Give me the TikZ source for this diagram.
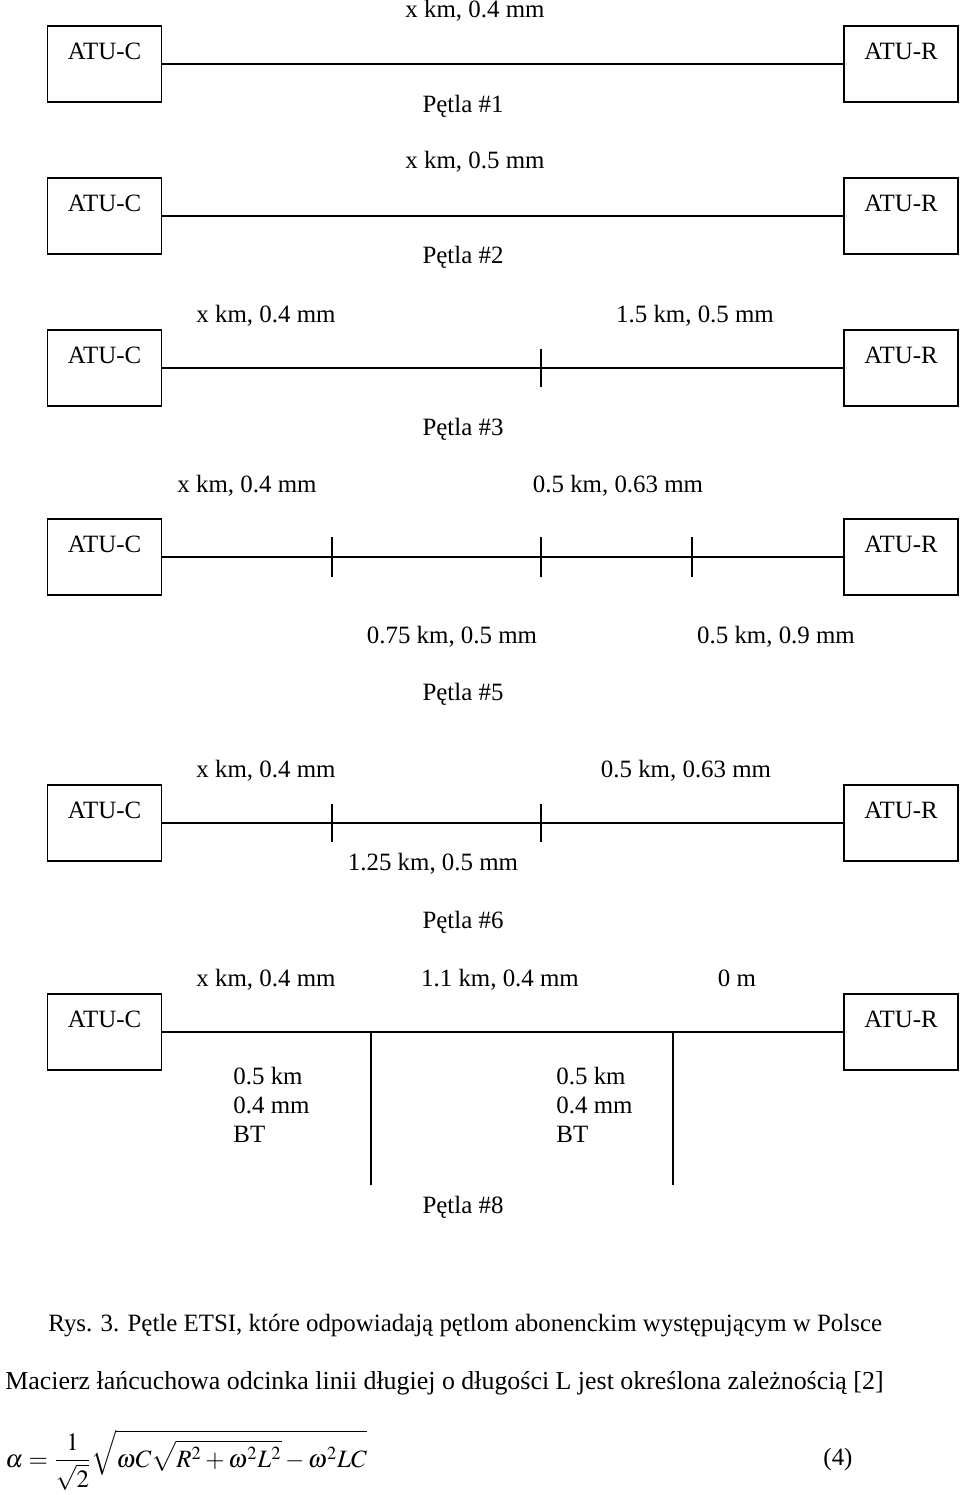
\documentclass[tikz,border=0pt]{standalone}
\usepackage{mathptmx}
\usepackage[no-math]{fontspec}
\setmainfont{Liberation Serif}
\usetikzlibrary{positioning}

\begin{document}
\begin{tikzpicture}[x=0.5pt,y=-0.5pt,
    every node/.style={font=\fontsize{12.45}{14.5}\selectfont,inner sep=0pt},
    lbl/.style={text height=1.6ex,text depth=.3ex},
    atubox/.style={draw,thick,minimum width=57pt,minimum height=38pt},
    wire/.style={thick},
    tick/.style={thick}]
    \useasboundingbox (0,0) rectangle (960,1495);

    % Petla #1
    \node[atubox,label={[yshift=6.5pt]center:ATU-C}] (c1) at (104.5,64) {};
    \node[atubox,label={[yshift=6.5pt]center:ATU-R}] (r1) at (901,64) {};
    \draw[wire] (c1) -- (r1);
    \node[lbl] (l1) at (475,12) {x km, 0.4 mm};
    \node[lbl] (p1) at (463,107) {Pętla \#1};

    % Petla #2
    \node[atubox,label={[yshift=6.5pt]center:ATU-C}] (c2) at (104.5,216) {};
    \node[atubox,label={[yshift=6.5pt]center:ATU-R}] (r2) at (901,216) {};
    \draw[wire] (c2) -- (r2);
    \node[lbl] (l2) at (475,163) {x km, 0.5 mm};
    \node[lbl] (p2) at (463,258) {Pętla \#2};

    % Petla #3
    \node[atubox,label={[yshift=6.5pt]center:ATU-C}] (c3) at (104.5,368) {};
    \node[atubox,label={[yshift=6.5pt]center:ATU-R}] (r3) at (901,368) {};
    \draw[wire] (c3) -- (r3);
    \coordinate (t3a) at (541,368);
    \draw[tick] (t3a) +(0,-19) -- +(0,19);
    \node[lbl] (l3a) at (266,317) {x km, 0.4 mm};
    \node[lbl] (l3b) at (695,317) {1.5 km, 0.5 mm};
    \node[lbl] (p3) at (463,430) {Pętla \#3};

    % Petla #5
    \node[atubox,label={[yshift=6.5pt]center:ATU-C}] (c5) at (104.5,557) {};
    \node[atubox,label={[yshift=6.5pt]center:ATU-R}] (r5) at (901,557) {};
    \draw[wire] (c5) -- (r5);
    \foreach \x [count=\i] in {332,541,692}{
        \coordinate (t5\i) at (\x,557);
        \draw[tick] (t5\i) +(0,-20) -- +(0,20);
    }
    \node[lbl] (l5a) at (247,487) {x km, 0.4 mm};
    \node[lbl] (l5b) at (618,487) {0.5 km, 0.63 mm};
    \node[lbl] (l5c) at (452,638) {0.75 km, 0.5 mm};
    \node[lbl] (l5d) at (776,638) {0.5 km, 0.9 mm};
    \node[lbl] (p5) at (463,695) {Pętla \#5};

    % Petla #6
    \node[atubox,label={[yshift=6.5pt]center:ATU-C}] (c6) at (104.5,823) {};
    \node[atubox,label={[yshift=6.5pt]center:ATU-R}] (r6) at (901,823) {};
    \draw[wire] (c6) -- (r6);
    \foreach \x [count=\i] in {332,541}{
        \coordinate (t6\i) at (\x,823);
        \draw[tick] (t6\i) +(0,-19) -- +(0,19);
    }
    \node[lbl] (l6a) at (266,772) {x km, 0.4 mm};
    \node[lbl] (l6b) at (686,772) {0.5 km, 0.63 mm};
    \node[lbl] (l6c) at (433,865) {1.25 km, 0.5 mm};
    \node[lbl] (p6) at (463,923) {Pętla \#6};

    % Petla #8
    \node[atubox,label={[yshift=6.5pt]center:ATU-C}] (c8) at (104.5,1032) {};
    \node[atubox,label={[yshift=6.5pt]center:ATU-R}] (r8) at (901,1032) {};
    \draw[wire] (c8) -- (r8);
    \coordinate (j1) at (371,1032);
    \coordinate (e1) at (371,1185);
    \coordinate (j2) at (673,1032);
    \coordinate (e2) at (673,1185);
    \draw[wire] (j1) -- (e1);
    \draw[wire] (j2) -- (e2);
    \node[lbl] (l8a) at (266,981) {x km, 0.4 mm};
    \node[lbl] (l8b) at (500,981) {1.1 km, 0.4 mm};
    \node[lbl] (l8c) at (737,981) {0 m};
    \node[anchor=west,align=left] (bt1) at (233,1104.5) {0.5 km\\0.4 mm\\BT};
    \node[anchor=west,align=left] (bt2) at (556,1104.5) {0.5 km\\0.4 mm\\BT};
    \node[lbl] (p8) at (463,1208) {Pętla \#8};

    %caption and formula:
    \node[lbl,anchor=west] (cap) at (48,1326)
        {Rys. 3. Pętle ETSI, które odpowiadają pętlom abonenckim występującym w Polsce};
    \node[lbl,anchor=west,font=\fontsize{12.95}{15}\selectfont] (txt) at (5,1384)
        {Macierz łańcuchowa odcinka linii długiej o długości L jest określona zależnością [2]};
    \node[anchor=west] (eq) at (5,1460)
        {$\displaystyle \alpha=\frac{1}{\sqrt{2}}\sqrt{\omega C\sqrt{R^{2}+\omega^{2}L^{2}}-\omega^{2}LC}$};
    \node[lbl] (eqn) at (838,1460) {(4)};
\end{tikzpicture}
\end{document}
